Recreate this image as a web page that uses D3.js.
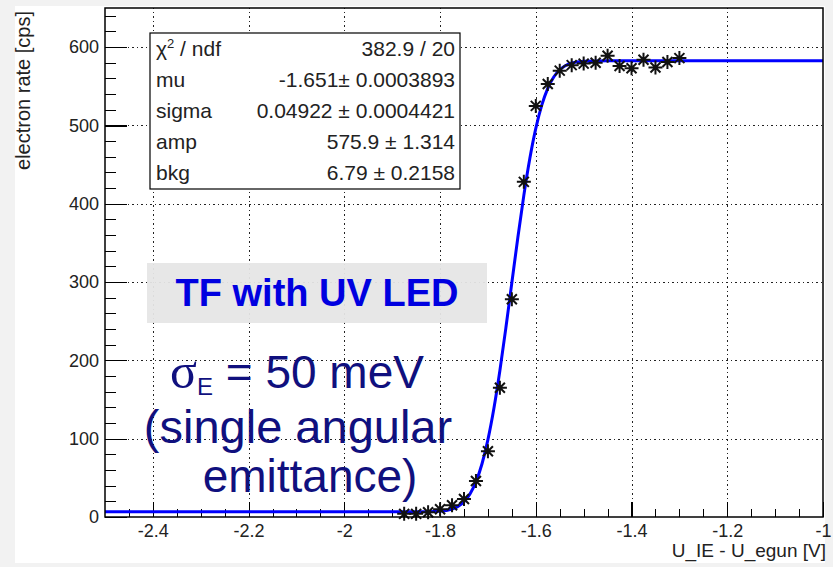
<!DOCTYPE html>
<html>
<head>
<meta charset="utf-8">
<script src="https://cdn.jsdelivr.net/npm/d3@7"></script>
<style>
body { margin: 0; background: #f2f2f2; }
svg { display: block; font-family: "Liberation Sans", Arial, sans-serif; }
</style>
</head>
<body>
<svg id="chart" width="833" height="567"></svg>
<script>
const voltage = [-1.875, -1.85, -1.825, -1.8, -1.775, -1.75, -1.725, -1.7, -1.675, -1.65, -1.625,
  -1.6, -1.575, -1.55, -1.525, -1.5, -1.475, -1.45, -1.425, -1.4, -1.375, -1.35, -1.325, -1.3]
const rate = [4, 4, 6, 10, 15, 23, 46, 84, 165, 278, 428,
  525, 553, 570, 577, 579, 580, 589, 576, 573, 584, 574, 581, 586]

// fit curve
const fitVoltage = [-2.5, -1.9, -1.85, -1.8, -1.775, -1.7625, -1.75, -1.7375, -1.725, -1.7125, -1.7,
  -1.6875, -1.675, -1.6625, -1.65, -1.6375, -1.625, -1.6125, -1.6, -1.5875, -1.575, -1.5625,
  -1.55, -1.5375, -1.525, -1.5, -1.45, -1.0]
const fitRate = [6.8, 6.8, 6.8, 7.5, 10.2, 13.6, 19.6, 29.5, 45, 67.7, 98.8,
  138.8, 187, 241.6, 299.4, 357, 410.7, 457.7, 496.2, 525.9, 547.4, 561.9,
  571.1, 576.6, 579.7, 582.1, 582.7, 582.7]

const xTicks = [-2.4, -2.2, -2, -1.8, -1.6, -1.4, -1.2, -1]
const yTicks = [0, 100, 200, 300, 400, 500, 600]

const statNames = ["χ", "mu", "sigma", "amp", "bkg"]
const statValues = ["382.9 / 20", "-1.651\u00b1 0.0003893", "0.04922 \u00b1 0.0004421", "575.9 \u00b1 1.314", "6.79 \u00b1 0.2158"]

var svg = d3.select("#chart")

// frame edges
var fL = 105, fR = 823, fT = 8, fB = 517

var x = d3.scaleLinear().domain([-2.5, -1]).range([fL, fR])
var y = d3.scaleLinear().domain([0, 650]).range([fB, fT])

// white canvas
svg.append("rect")
  .attr("x", 15).attr("y", 6).attr("width", 810).attr("height", 557)
  .attr("fill", "white")

// grid (dotted, major ticks only)
var gx = svg.append("g")
  .attr("transform", "translate(0," + fB + ")")
  .call(d3.axisBottom(x).tickValues(xTicks.slice(0, -1)).tickSize(-(fB - fT)).tickFormat(""))
var gy = svg.append("g")
  .attr("transform", "translate(" + fL + ",0)")
  .call(d3.axisLeft(y).tickValues(yTicks.slice(1)).tickSize(-(fR - fL)).tickFormat(""))
;[gx, gy].forEach(function(g) {
  g.select(".domain").remove()
  g.selectAll("line").attr("stroke", "#222").attr("stroke-dasharray", "1.5,3")
})

// minor ticks
svg.append("g")
  .attr("transform", "translate(0," + fB + ")")
  .call(d3.axisBottom(x).tickValues(d3.range(-2.45, -1.0, 0.05)).tickSize(-8).tickFormat(""))
  .call(g => g.select(".domain").remove())
svg.append("g")
  .attr("transform", "translate(" + fL + ",0)")
  .call(d3.axisLeft(y).tickValues(d3.range(20, 650, 20)).tickSize(-11).tickFormat(""))
  .call(g => g.select(".domain").remove())

// major axes
var xAxis = svg.append("g")
  .attr("transform", "translate(0," + fB + ")")
  .call(d3.axisBottom(x).tickValues(xTicks).tickSizeInner(-15).tickSizeOuter(0).tickPadding(7)
    .tickFormat(function(d) { return String(d) }))
var yAxis = svg.append("g")
  .attr("transform", "translate(" + fL + ",0)")
  .call(d3.axisLeft(y).tickValues(yTicks).tickSizeInner(-22).tickSizeOuter(0).tickPadding(6))
;[xAxis, yAxis].forEach(function(g) {
  g.select(".domain").remove()
  g.selectAll("line").attr("stroke", "black").attr("stroke-width", 1.2)
  g.selectAll("text").attr("font-family", "Liberation Sans, Arial, sans-serif")
    .attr("font-size", 18).attr("fill", "#222")
})
svg.selectAll("g line").attr("shape-rendering", "crispEdges")

// fit curve
var line = d3.line()
  .x(function(d, i) { return x(fitVoltage[i]) })
  .y(function(d) { return y(d) })
  .curve(d3.curveMonotoneX)
svg.append("path")
  .datum(fitRate)
  .attr("d", line)
  .attr("fill", "none")
  .attr("stroke", "#0000ff")
  .attr("stroke-width", 3)

// asterisk markers
var r = 7, dd = 5
var star = "M" + (-r) + ",0H" + r + "M0," + (-r) + "V" + r +
  "M" + (-dd) + "," + (-dd) + "L" + dd + "," + dd + "M" + (-dd) + "," + dd + "L" + dd + "," + (-dd)
svg.selectAll("path.pt")
  .data(rate)
  .enter()
  .append("path")
    .attr("class", "pt")
    .attr("d", star)
    .attr("transform", function(d, i) { return "translate(" + x(voltage[i]) + "," + y(d) + ")" })
    .attr("stroke", "#111")
    .attr("stroke-width", 2)

// frame
svg.append("rect")
  .attr("x", fL).attr("y", fT).attr("width", fR - fL).attr("height", fB - fT)
  .attr("fill", "none").attr("stroke", "black").attr("stroke-width", 1.5)

// axis titles
svg.append("text")
  .attr("x", 826).attr("y", 557)
  .attr("text-anchor", "end")
  .attr("font-size", 19).attr("fill", "#222")
  .text("U_IE - U_egun [V]")
svg.append("text")
  .attr("transform", "translate(30,11) rotate(-90)")
  .attr("text-anchor", "end")
  .attr("font-size", 20).attr("fill", "#222")
  .text("electron rate [cps]")

// stats box
var bx = 150, by = 33, bw = 310, bh = 156
svg.append("rect")
  .attr("x", bx).attr("y", by).attr("width", bw).attr("height", bh)
  .attr("fill", "white").attr("stroke", "black").attr("stroke-width", 1.2)
var rowH = bh / statNames.length
statNames.forEach(function(name, i) {
  var t = svg.append("text")
    .attr("x", bx + 6).attr("y", by + rowH * (i + 0.5) + 7)
    .attr("font-size", 21).attr("fill", "#222")
  if (name == "χ") {
    t.append("tspan").text("χ")
    t.append("tspan").attr("dy", -8).attr("font-size", 13).text("2")
    t.append("tspan").attr("dy", 8).text(" / ndf")
  } else {
    t.text(name)
  }
  svg.append("text")
    .attr("x", bx + bw - 5).attr("y", by + rowH * (i + 0.5) + 7)
    .attr("text-anchor", "end")
    .attr("font-size", 21).attr("fill", "#222")
    .text(statValues[i])
})

// annotation
svg.append("rect")
  .attr("x", 147).attr("y", 263).attr("width", 340).attr("height", 60)
  .attr("fill", "#e6e6e6").attr("opacity", 0.95)
svg.append("text")
  .attr("x", 317).attr("y", 306)
  .attr("text-anchor", "middle")
  .attr("font-weight", "bold").attr("font-size", 38).attr("fill", "#0000e0")
  .text("TF with UV LED")

var navy = "#10107e"
var sig = svg.append("text")
  .attr("x", 170).attr("y", 388)
  .attr("font-size", 46).attr("fill", navy)
sig.append("tspan").attr("font-family", "Liberation Serif, serif").attr("font-size", 50).text("σ")
sig.append("tspan").attr("font-size", 24).attr("dy", 7).text("E")
sig.append("tspan").attr("dy", -7).text(" = 50 meV")

svg.append("text")
  .attr("x", 298).attr("y", 443)
  .attr("text-anchor", "middle")
  .attr("font-size", 47).attr("fill", navy)
  .text("(single angular")
svg.append("text")
  .attr("x", 310).attr("y", 492)
  .attr("text-anchor", "middle")
  .attr("font-size", 46).attr("fill", navy)
  .text("emittance)")
</script>
</body>
</html>
